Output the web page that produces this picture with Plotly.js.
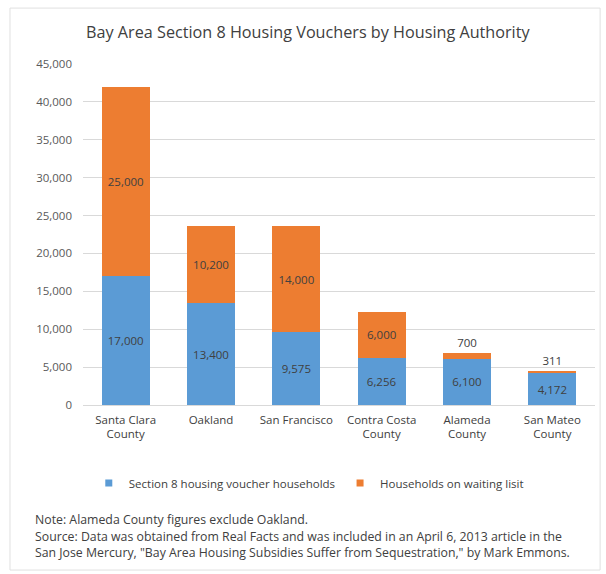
<!DOCTYPE html>
<html><head><meta charset="utf-8">
<script src="https://cdn.plot.ly/plotly-3.0.1.min.js"></script>
<style>html,body{margin:0;padding:0;background:#fff}#c{width:606px;height:574px}</style>
</head><body><div id="c"></div>
<script>
const categories = ["Santa Clara<br>County","Oakland","San Francisco","Contra Costa<br>County","Alameda<br>County","San Mateo<br>County"];
const voucherHouseholds = [17000, 13400, 9575, 6256, 6100, 4172];
const waitingList = [25000, 10200, 14000, 6000, 700, 311];
const seriesNames = ["Section 8 housing voucher households","Households on waiting lisit"];
const seriesColors = ['#5B9BD5','#ED7D31'];
const fmt = v => v.toLocaleString('en-US');
const F = "Open Sans, Liberation Sans, sans-serif";
const traces = [
 {type:'bar', x:categories, y:voucherHouseholds, name:seriesNames[0], marker:{color:seriesColors[0]}, showlegend:false,
  text:voucherHouseholds.map(fmt), textposition:'inside', insidetextanchor:'middle', textangle:0,
  textfont:{family:F,size:11.5,color:'#404040'}},
 {type:'bar', x:categories, y:waitingList, name:seriesNames[1], marker:{color:seriesColors[1]}, showlegend:false,
  text:waitingList.map(fmt), textposition:waitingList.map(v=>v<2000?'outside':'inside'), insidetextanchor:'middle', textangle:0,
  textfont:{family:F,size:11.5,color:'#404040'}, outsidetextfont:{family:F,size:11.5,color:'#404040'}, cliponaxis:false},
 // legend-only entries with small square swatches
 {type:'scatter', mode:'markers', x:[categories[0]], y:[null], name:seriesNames[0], marker:{symbol:'square',size:7,color:seriesColors[0]}, showlegend:true},
 {type:'scatter', mode:'markers', x:[categories[0]], y:[null], name:seriesNames[1], marker:{symbol:'square',size:7,color:seriesColors[1]}, showlegend:true}
];
const layout = {
 width:606, height:574, barmode:'stack', bargap:0.437,
 margin:{l:83,r:11,t:64,b:169},
 paper_bgcolor:'#fff', plot_bgcolor:'#fff',
 font:{family:F,size:12,color:'#595959'},
 title:{text:'Bay Area Section 8 Housing Vouchers by Housing Authority', font:{family:F,size:16.2,color:'#404040'}, x:0.508, xanchor:'center', xref:'container', y:0.943, yanchor:'middle', yref:'container'},
 xaxis:{type:'category', tickfont:{family:F,size:11.5,color:'#404040'}, showgrid:false, zeroline:false, showline:false, ticks:'', ticklabelstandoff:6},
 yaxis:{range:[0,45000], dtick:5000, tickformat:',d', gridcolor:'#d9d9d9', zeroline:true, zerolinecolor:'#d9d9d9', tickfont:{family:F,size:11.5,color:'#595959'}, ticks:'', ticklabelstandoff:10, fixedrange:true},
 showlegend:true,
 legend:{orientation:'h', x:0.441, xanchor:'center', y:-0.229, yanchor:'middle', font:{family:F,size:11.5,color:'#404040'}, itemwidth:30, traceorder:'normal'},
 annotations:[
  {xref:'paper',yref:'paper',x:-0.098,y:-0.337,xanchor:'left',yanchor:'middle',showarrow:false,text:'Note: Alameda County figures exclude Oakland.',font:{family:F,size:12.3,color:'#404040'}},
  {xref:'paper',yref:'paper',x:-0.098,y:-0.387,xanchor:'left',yanchor:'middle',showarrow:false,text:'Source: Data was obtained from Real Facts and was included in an April 6, 2013 article in the',font:{family:F,size:12.3,color:'#404040'}},
  {xref:'paper',yref:'paper',x:-0.098,y:-0.434,xanchor:'left',yanchor:'middle',showarrow:false,text:'San Jose Mercury, "Bay Area Housing Subsidies Suffer from Sequestration," by Mark Emmons.',font:{family:F,size:12.3,color:'#404040'}}
 ],
 shapes:[{type:'rect',xref:'paper',yref:'paper',x0:-0.1426,x1:1.01,y0:-0.484,y1:1.164,line:{color:'#e0e0e0',width:1},layer:'below'}]
};
Plotly.newPlot('c', traces, layout, {displayModeBar:false, staticPlot:true});
</script></body></html>
